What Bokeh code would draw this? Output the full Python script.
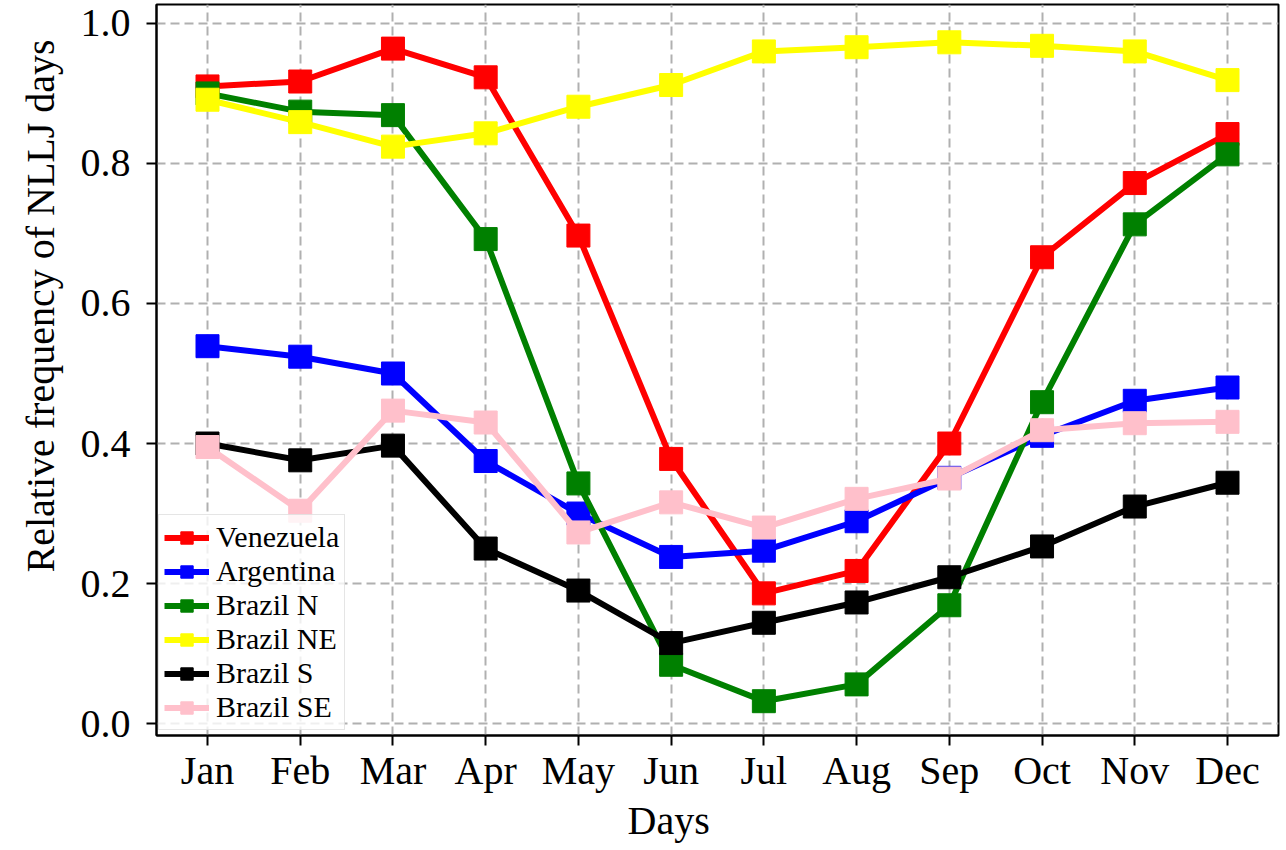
from bokeh.plotting import figure
from bokeh.models import FixedTicker, PrintfTickFormatter, Legend, LegendItem, Title, Range1d
from bokeh.embed import file_html
from bokeh.resources import INLINE

months = ["Jan", "Feb", "Mar", "Apr", "May", "Jun", "Jul", "Aug", "Sep", "Oct", "Nov", "Dec"]
venezuela = [0.910, 0.917, 0.964, 0.923, 0.697, 0.378, 0.186, 0.218, 0.400, 0.666, 0.772, 0.842]
argentina = [0.539, 0.524, 0.500, 0.375, 0.300, 0.238, 0.247, 0.289, 0.351, 0.411, 0.461, 0.480]
brazil_n = [0.900, 0.874, 0.869, 0.692, 0.343, 0.084, 0.032, 0.056, 0.169, 0.459, 0.713, 0.813]
brazil_ne = [0.891, 0.859, 0.824, 0.843, 0.881, 0.912, 0.960, 0.966, 0.973, 0.968, 0.960, 0.919]
brazil_s = [0.400, 0.376, 0.397, 0.250, 0.190, 0.115, 0.144, 0.173, 0.209, 0.253, 0.310, 0.344]
brazil_se = [0.395, 0.304, 0.447, 0.430, 0.273, 0.316, 0.280, 0.321, 0.350, 0.419, 0.429, 0.431]

series = [
    ("Venezuela", venezuela, "#ff0000"),
    ("Argentina", argentina, "#0000ff"),
    ("Brazil N", brazil_n, "#008000"),
    ("Brazil NE", brazil_ne, "#ffff00"),
    ("Brazil S", brazil_s, "#000000"),
    ("Brazil SE", brazil_se, "#ffc0cb"),
]

FONT = "Liberation Serif"
x = list(range(len(months)))

p = figure(frame_width=1122, frame_height=731, output_backend="svg", toolbar_location=None,
           x_range=Range1d(-0.55, 11.55), y_range=Range1d(-0.017, 1.027),
           min_border_left=156, min_border_right=2, min_border_top=4, min_border_bottom=108)

p.outline_line_color = "black"
p.outline_line_width = 2
p.background_fill_color = "white"
p.border_fill_color = "white"

for ax in (p.xaxis[0], p.yaxis[0]):
    ax.axis_line_width = 2
    ax.axis_line_color = "black"
    ax.major_tick_line_width = 2
    ax.major_tick_out = 10
    ax.major_tick_in = 0
    ax.minor_tick_out = 0
    ax.minor_tick_in = 0
    ax.major_label_text_font = FONT
    ax.major_label_text_font_size = "40px"
    ax.major_label_text_color = "black"

p.xaxis.ticker = FixedTicker(ticks=x)
p.xaxis.major_label_overrides = {i: m for i, m in enumerate(months)}
p.xaxis.major_label_standoff = 2
p.yaxis.ticker = FixedTicker(ticks=[0.0, 0.2, 0.4, 0.6, 0.8, 1.0])
p.yaxis.formatter = PrintfTickFormatter(format="%.1f")
p.yaxis.major_label_standoff = 16

p.grid.grid_line_color = "#b0b0b0"
p.grid.grid_line_width = 2
p.grid.grid_line_dash = "9 5"
p.xgrid.ticker = FixedTicker(ticks=x)

items = []
for name, vals, col in series:
    r1 = p.line(x, vals, line_color=col, line_width=6)
    r2 = p.scatter(x, vals, marker="square", size=23, fill_color=col, line_color=col)
    items.append(LegendItem(label=name, renderers=[r1, r2]))

legend = Legend(items=items, location=(2, 5), margin=0, padding=5, spacing=0,
                label_text_font=FONT, label_text_font_size="30px", label_text_color="black",
                label_height=31, glyph_height=31, glyph_width=45, label_standoff=7,
                border_line_color="#cccccc", border_line_width=1,
                background_fill_color="white", background_fill_alpha=0.8)
p.add_layout(legend, "center")

xt = Title(text="Days", align="left", offset=471, text_font=FONT, text_color="black",
           text_font_size="40px", text_font_style="normal", standoff=0)
p.add_layout(xt, "below")
yt = Title(text="Relative frequency of NLLJ days", align="left", offset=163, text_font=FONT,
           text_color="black", text_font_size="40px", text_font_style="normal", standoff=30)
p.add_layout(yt, "left")

open("out.html", "w").write(file_html(p, INLINE))
